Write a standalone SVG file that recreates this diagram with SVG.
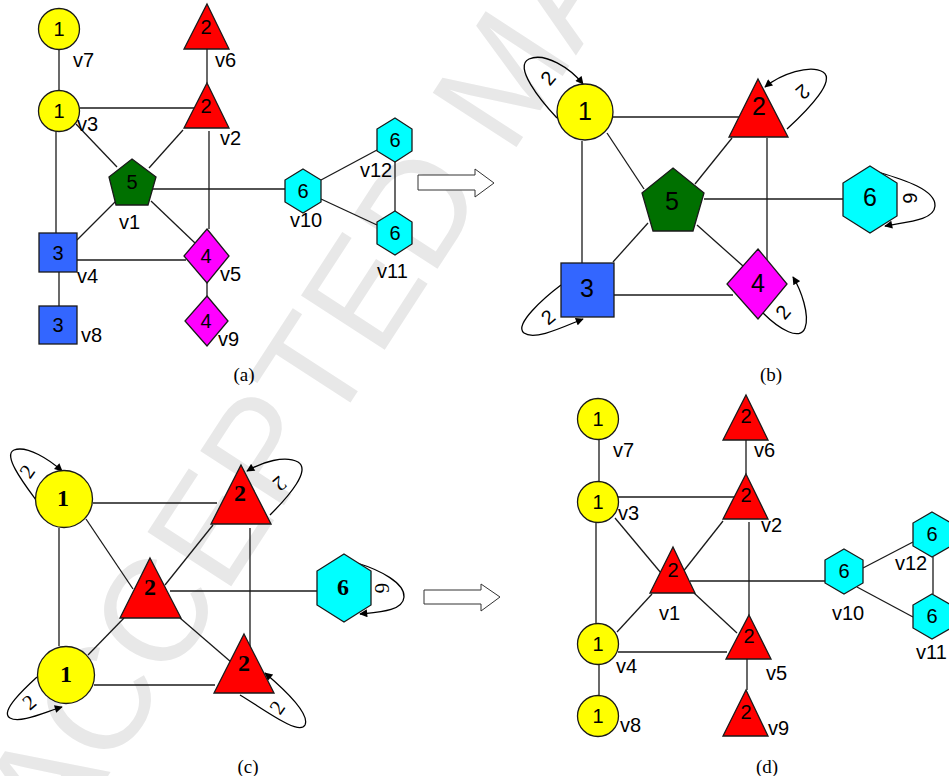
<svg xmlns="http://www.w3.org/2000/svg" width="949" height="776" viewBox="0 0 949 776">
  <style>
    .edge { stroke: #1a1a1a; stroke-width: 1.3; fill: none; }
    .loop { stroke: #000; stroke-width: 1.3; fill: none; marker-end: url(#ah); }
    .nd { stroke: #1a1a1a; stroke-width: 1.3; }
    .yel { fill: #ffff00; }
    .red { fill: #ff0000; }
    .grn { fill: #007000; }
    .blu { fill: #3366ff; }
    .mag { fill: #ff00ff; }
    .cyn { fill: #00ffff; }
    .num { font-family: "Liberation Sans", Arial, sans-serif; font-size: 20px; text-anchor: middle; fill: #000; }
    .big { font-size: 25px; }
    .bnum { font-family: "Liberation Serif", "Times New Roman", serif; font-weight: bold; font-size: 24px; text-anchor: middle; fill: #000; }
    .lbl { font-family: "Liberation Sans", Arial, sans-serif; font-size: 20px; fill: #000; }
    .ll { font-family: "Liberation Sans", Arial, sans-serif; font-size: 20px; text-anchor: middle; fill: #000; }
    .lls { font-family: "Liberation Serif", "Times New Roman", serif; font-size: 21px; text-anchor: middle; fill: #000; }
    .cap { font-family: "Liberation Serif", "Times New Roman", serif; font-size: 19px; text-anchor: middle; fill: #000; }
    .hollow { fill: #fff; stroke: #333; stroke-width: 1; }
    .wm { font-family: "Liberation Sans", Arial, sans-serif; font-size: 145px; fill: #e8e8e8; }
  </style>
  <defs>
    <marker id="ah" viewBox="0 0 10 10" refX="9" refY="5" markerWidth="9" markerHeight="8" orient="auto" markerUnits="userSpaceOnUse">
      <path d="M0,0 L10,5 L0,10 z" fill="#000"/>
    </marker>
  </defs>

  <rect width="949" height="776" fill="#fff"/>

  <!-- background stamp -->
  <text class="wm" transform="translate(58,853) rotate(-57)">ACCEPTED MANUSCRIPT</text>

  <!-- ===================== panel (a) ===================== -->
  <g id="edges-a">
    <line class="edge" x1="59" y1="49" x2="59" y2="91"/>
    <line class="edge" x1="207" y1="49" x2="207" y2="83"/>
    <line class="edge" x1="80" y1="108" x2="195" y2="108"/>
    <line class="edge" x1="76" y1="124" x2="117" y2="167"/>
    <line class="edge" x1="183" y1="130" x2="149" y2="168"/>
    <line class="edge" x1="209" y1="131" x2="209" y2="229"/>
    <line class="edge" x1="56" y1="131" x2="56" y2="233"/>
    <line class="edge" x1="153" y1="189" x2="285" y2="189"/>
    <line class="edge" x1="116" y1="201" x2="77" y2="240"/>
    <line class="edge" x1="151" y1="201" x2="195" y2="243"/>
    <line class="edge" x1="77" y1="260" x2="186" y2="260"/>
    <line class="edge" x1="59" y1="272" x2="59" y2="306"/>
    <line class="edge" x1="207" y1="283" x2="207" y2="296"/>
    <line class="edge" x1="321" y1="180" x2="377" y2="150"/>
    <line class="edge" x1="321" y1="199" x2="377" y2="225"/>
    <line class="edge" x1="395" y1="162" x2="395" y2="211"/>
  </g>

  <g id="a-v7"><circle class="nd yel" cx="59" cy="29" r="20.5"/><text class="num" x="59" y="36">1</text><text class="lbl" x="73" y="67">v7</text></g>
  <g id="a-v3"><circle class="nd yel" cx="59" cy="111" r="20.5"/><text class="num" x="59" y="118">1</text><text class="lbl" x="77" y="131">v3</text></g>
  <g id="a-v6"><polygon class="nd red" points="207,4 229,49 184,49"/><text class="num" x="206" y="34">2</text><text class="lbl" x="215" y="67">v6</text></g>
  <g id="a-v2"><polygon class="nd red" points="207,83 229,128 184,128"/><text class="num" x="206" y="113">2</text><text class="lbl" x="220" y="145">v2</text></g>
  <g id="a-v1"><polygon class="nd grn" points="132,159 156,177 148,205 116,205 109,177"/><text class="num" x="132" y="189">5</text><text class="lbl" x="119" y="229">v1</text></g>
  <g id="a-v4"><rect class="nd blu" x="39" y="233" width="38" height="39"/><text class="num" x="58" y="260">3</text><text class="lbl" x="77" y="283">v4</text></g>
  <g id="a-v8"><rect class="nd blu" x="39" y="306" width="38" height="38"/><text class="num" x="58" y="332">3</text><text class="lbl" x="81" y="342">v8</text></g>
  <g id="a-v5"><polygon class="nd mag" points="207,229 229,256 207,283 184,256"/><text class="num" x="206" y="263">4</text><text class="lbl" x="220" y="281">v5</text></g>
  <g id="a-v9"><polygon class="nd mag" points="207,296 228,321 207,346 185,321"/><text class="num" x="206" y="328">4</text><text class="lbl" x="218" y="346">v9</text></g>
  <g id="a-v10"><polygon class="nd cyn" points="303,169 321,180 321,202 303,213 285,202 285,180"/><text class="num" x="303" y="198">6</text><text class="lbl" x="290" y="227">v10</text></g>
  <g id="a-v12"><polygon class="nd cyn" points="395,118 412,129 412,151 395,162 377,151 377,129"/><text class="num" x="395" y="147">6</text><text class="lbl" x="360" y="177">v12</text></g>
  <g id="a-v11"><polygon class="nd cyn" points="395,211 412,222 412,244 395,255 377,244 377,222"/><text class="num" x="395" y="240">6</text><text class="lbl" x="377" y="278">v11</text></g>
  <text class="cap" x="244" y="381">(a)</text>

  <!-- transformation arrow a -> b -->
  <polygon class="hollow" points="418,175 475,175 475,169 494,183 475,197 475,190 418,190"/>

  <!-- ===================== panel (b) ===================== -->
  <g id="edges-b">
    <line class="edge" x1="613" y1="117" x2="739" y2="117"/>
    <line class="edge" x1="607" y1="133" x2="644" y2="189"/>
    <line class="edge" x1="732" y1="138" x2="695" y2="184"/>
    <line class="edge" x1="767" y1="138" x2="767" y2="262"/>
    <line class="edge" x1="582" y1="141" x2="582" y2="263"/>
    <line class="edge" x1="704" y1="199" x2="843" y2="199"/>
    <line class="edge" x1="648" y1="223" x2="613" y2="262"/>
    <line class="edge" x1="697" y1="225" x2="743" y2="266"/>
    <line class="edge" x1="614" y1="295" x2="733" y2="295"/>
    <path class="loop" d="M557,118 C540,100 513,66 529,59 C545,52 570,68 583,84"/>
    <path class="loop" d="M787,129 C810,108 836,80 823,72 C810,64 781,74 765,87"/>
    <path class="loop" d="M878,172 C905,180 936,190 935,206 C934,221 905,222 885,226"/>
    <path class="loop" d="M763,313 C780,330 800,341 805,328 C810,315 801,290 793,277"/>
    <path class="loop" d="M561,285 C545,297 513,325 524,333 C535,341 565,326 583,319"/>
  </g>
  <g id="b-n1"><circle class="nd yel" cx="585" cy="112" r="28"/><text class="num big" x="585" y="120">1</text><text class="ll" transform="translate(548,78) rotate(-50)" y="7">2</text></g>
  <g id="b-n2"><polygon class="nd red" points="758,79 788,137 729,137"/><text class="num big" x="759" y="115">2</text><text class="ll" transform="translate(803,92) rotate(140)" y="7">2</text></g>
  <g id="b-n5"><polygon class="nd grn" points="673,168 704,193 693,231 653,231 642,193"/><text class="num big" x="672" y="210">5</text></g>
  <g id="b-n6"><polygon class="nd cyn" points="870,166 897,183 897,216 870,233 843,216 843,183"/><text class="num big" x="870" y="206">6</text><text class="ll" transform="translate(910,198) rotate(90)" y="7">6</text></g>
  <g id="b-n3"><rect class="nd blu" x="561" y="263" width="53" height="54"/><text class="num big" x="587" y="297">3</text><text class="ll" transform="translate(548,317) rotate(-40)" y="7">2</text></g>
  <g id="b-n4"><polygon class="nd mag" points="758,249 787,284 758,319 727,284"/><text class="num big" x="758" y="292">4</text><text class="ll" transform="translate(783,312) rotate(-50)" y="7">2</text></g>
  <text class="cap" x="771" y="381">(b)</text>

  <!-- ===================== panel (c) ===================== -->
  <g id="edges-c">
    <line class="edge" x1="93" y1="503" x2="217" y2="503"/>
    <line class="edge" x1="86" y1="519" x2="133" y2="589"/>
    <line class="edge" x1="213" y1="525" x2="165" y2="585"/>
    <line class="edge" x1="250" y1="528" x2="250" y2="646"/>
    <line class="edge" x1="59" y1="528" x2="59" y2="646"/>
    <line class="edge" x1="170" y1="591" x2="317" y2="591"/>
    <line class="edge" x1="124" y1="618" x2="88" y2="655"/>
    <line class="edge" x1="180" y1="618" x2="231" y2="662"/>
    <line class="edge" x1="94" y1="685" x2="215" y2="685"/>
    <path class="loop" d="M36,500 C25,485 2,455 14,450 C27,445 50,460 62,471"/>
    <path class="loop" d="M270,515 C290,495 311,470 298,462 C285,455 262,462 247,471"/>
    <path class="loop" d="M357,563 C380,570 405,583 404,597 C403,611 380,612 360,614"/>
    <path class="loop" d="M240,695 C265,710 299,736 305,725 C310,714 285,690 265,673"/>
    <path class="loop" d="M37,677 C25,688 -1,712 10,718 C20,724 45,712 62,707"/>
  </g>
  <g id="c-n1a"><circle class="nd yel" cx="64" cy="499" r="28.5"/><text class="bnum" x="63" y="506">1</text><text class="lls" transform="translate(28,472) rotate(-55)" y="6">2</text></g>
  <g id="c-n2a"><polygon class="nd red" points="241,465 271,524 211,524"/><text class="bnum" x="240" y="501">2</text><text class="lls" transform="translate(279,483) rotate(140)" y="6">2</text></g>
  <g id="c-n2b"><polygon class="nd red" points="150,558 181,618 120,618"/><text class="bnum" x="150" y="595">2</text></g>
  <g id="c-n6"><polygon class="nd cyn" points="344,554 371,571 371,605 344,622 317,605 317,571"/><text class="bnum" x="343" y="595">6</text><text class="lls" transform="translate(381,588) rotate(90)" y="6">6</text></g>
  <g id="c-n1b"><circle class="nd yel" cx="66" cy="675" r="28.5"/><text class="bnum" x="66" y="682">1</text><text class="lls" transform="translate(30,703) rotate(-40)" y="6">2</text></g>
  <g id="c-n2c"><polygon class="nd red" points="244,634 274,693 214,693"/><text class="bnum" x="244" y="671">2</text><text class="lls" transform="translate(278,708) rotate(-55)" y="6">2</text></g>
  <text class="cap" x="248" y="773">(c)</text>

  <!-- transformation arrow c -> d -->
  <polygon class="hollow" points="424,590 481,590 481,584 500,597 481,611 481,604 424,604"/>

  <!-- ===================== panel (d) ===================== -->
  <g id="edges-d">
    <line class="edge" x1="599" y1="440" x2="599" y2="482"/>
    <line class="edge" x1="746" y1="440" x2="746" y2="474"/>
    <line class="edge" x1="618" y1="497" x2="735" y2="497"/>
    <line class="edge" x1="596" y1="522" x2="596" y2="623"/>
    <line class="edge" x1="615" y1="518" x2="661" y2="573"/>
    <line class="edge" x1="723" y1="521" x2="682" y2="573"/>
    <line class="edge" x1="749" y1="522" x2="749" y2="615"/>
    <line class="edge" x1="690" y1="581" x2="825" y2="581"/>
    <line class="edge" x1="652" y1="594" x2="617" y2="632"/>
    <line class="edge" x1="694" y1="593" x2="737" y2="633"/>
    <line class="edge" x1="618" y1="652" x2="727" y2="652"/>
    <line class="edge" x1="599" y1="664" x2="599" y2="695"/>
    <line class="edge" x1="747" y1="659" x2="747" y2="690"/>
    <line class="edge" x1="863" y1="568" x2="913" y2="542"/>
    <line class="edge" x1="857" y1="587" x2="913" y2="617"/>
    <line class="edge" x1="933" y1="557" x2="933" y2="594"/>
  </g>
  <g id="d-v7"><circle class="nd yel" cx="598" cy="419" r="20.5"/><text class="num" x="598" y="426">1</text><text class="lbl" x="613" y="457">v7</text></g>
  <g id="d-v3"><circle class="nd yel" cx="598" cy="502" r="20.5"/><text class="num" x="598" y="509">1</text><text class="lbl" x="618" y="520">v3</text></g>
  <g id="d-v4"><circle class="nd yel" cx="598" cy="644" r="20.5"/><text class="num" x="598" y="651">1</text><text class="lbl" x="616" y="673">v4</text></g>
  <g id="d-v8"><circle class="nd yel" cx="598" cy="716" r="20.5"/><text class="num" x="598" y="723">1</text><text class="lbl" x="620" y="732">v8</text></g>
  <g id="d-v6"><polygon class="nd red" points="746,395 768,440 723,440"/><text class="num" x="746" y="423">2</text><text class="lbl" x="754" y="457">v6</text></g>
  <g id="d-v2"><polygon class="nd red" points="746,474 768,519 723,519"/><text class="num" x="746" y="502">2</text><text class="lbl" x="761" y="532">v2</text></g>
  <g id="d-v1"><polygon class="nd red" points="673,547 695,593 650,593"/><text class="num" x="673" y="577">2</text><text class="lbl" x="659" y="620">v1</text></g>
  <g id="d-v5"><polygon class="nd red" points="749,615 771,659 726,659"/><text class="num" x="749" y="643">2</text><text class="lbl" x="766" y="680">v5</text></g>
  <g id="d-v9"><polygon class="nd red" points="746,690 768,736 723,736"/><text class="num" x="746" y="719">2</text><text class="lbl" x="768" y="735">v9</text></g>
  <g id="d-v10"><polygon class="nd cyn" points="844,549 863,560 863,583 844,594 825,583 825,560"/><text class="num" x="844" y="578">6</text><text class="lbl" x="832" y="620">v10</text></g>
  <g id="d-v12"><polygon class="nd cyn" points="932,512 951,523 951,546 932,557 913,546 913,523"/><text class="num" x="932" y="541">6</text><text class="lbl" x="895" y="570">v12</text></g>
  <g id="d-v11"><polygon class="nd cyn" points="932,594 951,605 951,628 932,639 913,628 913,605"/><text class="num" x="932" y="623">6</text><text class="lbl" x="916" y="659">v11</text></g>
  <text class="cap" x="767" y="773">(d)</text>
</svg>
